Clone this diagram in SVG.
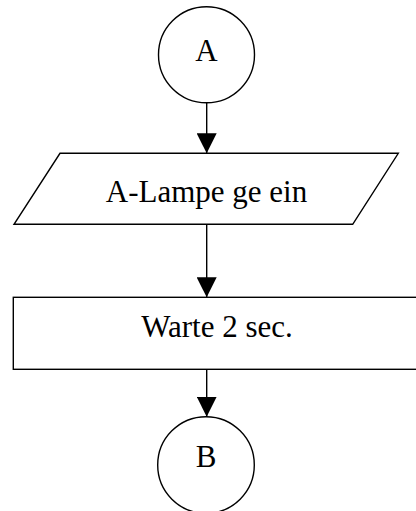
<svg xmlns="http://www.w3.org/2000/svg" width="416" height="511" viewBox="0 0 416 511">
<defs>
<style>
.s{fill:#fff;stroke:#000;stroke-width:1.4}
.t{font-family:"Liberation Serif","Times New Roman",serif;font-size:31px;fill:#000;text-anchor:middle}
.c{stroke:#000;stroke-width:1.4;fill:none}
</style>
<marker id="ah" markerWidth="20" markerHeight="20" viewBox="0 0 20 20" refX="20" refY="10" orient="auto" markerUnits="userSpaceOnUse">
<path d="M0,0 L20,10 L0,20 Z" fill="#000"/>
</marker>
</defs>
<rect width="416" height="511" fill="#fff"/>
<g id="nodeA">
<circle class="s" cx="206.5" cy="54.7" r="48"/>
<text class="t" x="206.5" y="61">A</text>
</g>
<g id="lampe">
<polygon class="s" points="60,153.3 398.3,153.3 352.7,224.3 14,224.3"/>
<text class="t" x="206.5" y="202">A-Lampe ge ein</text>
</g>
<g id="warte">
<rect class="s" x="13.3" y="297.3" width="420" height="72"/>
<text class="t" x="217" y="337.3">Warte 2 sec.</text>
</g>
<g id="nodeB">
<circle class="s" cx="206" cy="465" r="48.3"/>
<text class="t" x="206" y="467.3">B</text>
</g>
<g id="connectors">
<line class="c" x1="206.7" y1="102.7" x2="206.7" y2="153.3" marker-end="url(#ah)"/>
<line class="c" x1="206.7" y1="224.3" x2="206.7" y2="297.3" marker-end="url(#ah)"/>
<line class="c" x1="206.7" y1="369.3" x2="206.7" y2="416.7" marker-end="url(#ah)"/>
</g>
</svg>
